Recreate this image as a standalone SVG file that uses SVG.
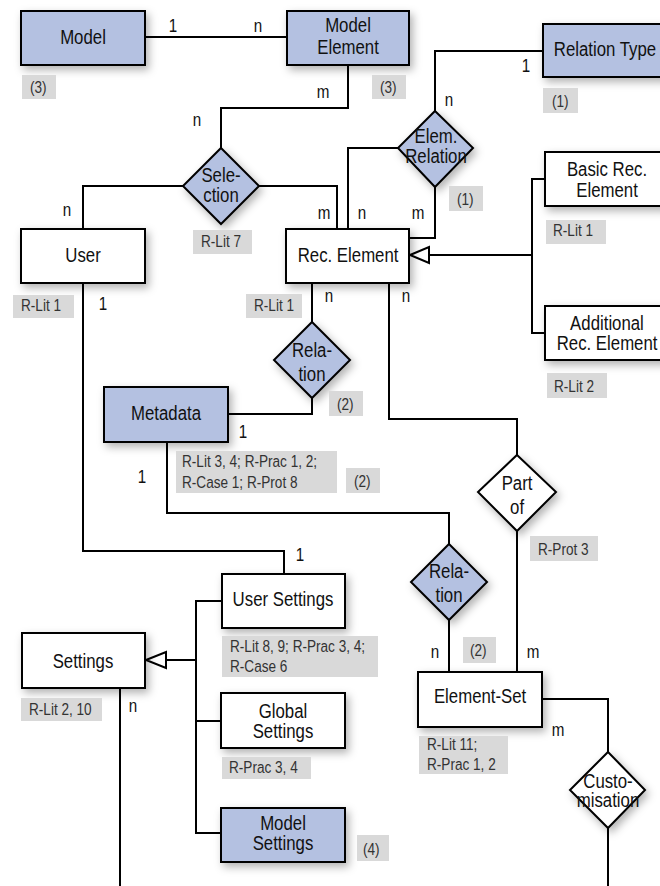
<svg xmlns="http://www.w3.org/2000/svg" width="660" height="886" viewBox="0 0 660 886">
<style>
.box{fill:#fff;stroke:#000;stroke-width:2}
.blue{fill:#b4c1e1}
.lbl{fill:#d9d9d9}
.t,.s,.c{font-family:"Liberation Sans",Arial,sans-serif;transform-box:fill-box;transform:scaleX(0.8)}
.t{font-size:21px;text-anchor:middle;fill:#111;transform-origin:center}
.s{font-size:17px;fill:#333;transform-origin:left center}
.c{font-size:19px;text-anchor:middle;fill:#111;transform-origin:center}
.ln{fill:none;stroke:#000;stroke-width:2}
.tri{fill:#fff;stroke:#000;stroke-width:2}
</style>
<defs>
<filter id="sh" x="-20%" y="-20%" width="150%" height="160%">
<feDropShadow dx="3" dy="4" stdDeviation="4" flood-color="#000" flood-opacity="0.3"/>
</filter>
</defs>
<rect width="660" height="886" fill="#fff"/>
<g id="connectors">
<path class="ln" d="M145,37 H287"/>
<path class="ln" d="M348,65 V108 H221 V148"/>
<path class="ln" d="M183,186 H83 V229"/>
<path class="ln" d="M259,186 H337 V229"/>
<path class="ln" d="M435,111 V51 H543"/>
<path class="ln" d="M398,148 H348 V229"/>
<path class="ln" d="M435,187 V238 H409"/>
<path class="ln" d="M545,179 H532 V333 H545 M532,255 H429"/>
<polygon class="tri" points="410,255 429,247 429,263"/>
<path class="ln" d="M312,283 V322"/>
<path class="ln" d="M312,398 V414 H228"/>
<path class="ln" d="M389,283 V419 H517 V455"/>
<path class="ln" d="M517,531 V672"/>
<path class="ln" d="M167,442 V513 H449 V544"/>
<path class="ln" d="M449,620 V672"/>
<path class="ln" d="M83,283 V551 H284 V574"/>
<path class="ln" d="M542,699 H608 V752"/>
<path class="ln" d="M608,828 V886"/>
<path class="ln" d="M166,660 H196 M222,601 H196 V833 H221 M196,721 H221"/>
<polygon class="tri" points="146,660 166,652 166,668"/>
<path class="ln" d="M120,688 V886"/>
<text class="c" x="173" y="32">1</text>
<text class="c" x="258" y="32">n</text>
<text class="c" x="323" y="98">m</text>
<text class="c" x="197" y="126">n</text>
<text class="c" x="67" y="216">n</text>
<text class="c" x="324" y="219">m</text>
<text class="c" x="362" y="219">n</text>
<text class="c" x="418" y="219">m</text>
<text class="c" x="526" y="72">1</text>
<text class="c" x="449" y="106">n</text>
<text class="c" x="103" y="310">1</text>
<text class="c" x="329" y="302">n</text>
<text class="c" x="406" y="302">n</text>
<text class="c" x="243" y="438">1</text>
<text class="c" x="142" y="483">1</text>
<text class="c" x="300" y="561">1</text>
<text class="c" x="435" y="658">n</text>
<text class="c" x="533" y="658">m</text>
<text class="c" x="558" y="736">m</text>
<text class="c" x="133" y="712">n</text>
</g>
<g id="model">
<rect class="box blue" x="21" y="11" width="124" height="54" filter="url(#sh)"/>
<text class="t" x="83" y="44">Model</text>
<rect class="lbl" x="22" y="75" width="34" height="24"/>
<text class="s" x="30" y="93">(3)</text>
</g>
<g id="model-element">
<rect class="box blue" x="287" y="11" width="122" height="54" filter="url(#sh)"/>
<text class="t" x="348" y="32">Model</text>
<text class="t" x="348" y="54">Element</text>
<rect class="lbl" x="372" y="75" width="34" height="24"/>
<text class="s" x="380" y="93">(3)</text>
</g>
<g id="relation-type">
<rect class="box blue" x="543" y="24" width="125" height="53" filter="url(#sh)"/>
<text class="t" x="605" y="56">Relation Type</text>
<rect class="lbl" x="543" y="88" width="35" height="25"/>
<text class="s" x="552" y="107">(1)</text>
</g>
<g id="selection">
<polygon class="box blue" points="221,148 259,186 221,224 183,186" filter="url(#sh)"/>
<text class="t" x="221" y="182">Sele-</text>
<text class="t" x="221" y="202">ction</text>
<rect class="lbl" x="193" y="230" width="59" height="24"/>
<text class="s" x="201" y="247">R-Lit 7</text>
</g>
<g id="elem-relation">
<polygon class="box blue" points="435,111 473,148 435,187 398,148" filter="url(#sh)"/>
<text class="t" x="436" y="143">Elem.</text>
<text class="t" x="436" y="163">Relation</text>
<rect class="lbl" x="449" y="186" width="34" height="25"/>
<text class="s" x="457" y="205">(1)</text>
</g>
<g id="user">
<rect class="box" x="21" y="229" width="124" height="54" filter="url(#sh)"/>
<text class="t" x="83" y="262">User</text>
<rect class="lbl" x="13" y="295" width="61" height="23"/>
<text class="s" x="21" y="311">R-Lit 1</text>
</g>
<g id="rec-element">
<rect class="box" x="286" y="229" width="123" height="54" filter="url(#sh)"/>
<text class="t" x="348" y="262">Rec. Element</text>
<rect class="lbl" x="246" y="294" width="56" height="24"/>
<text class="s" x="254" y="311">R-Lit 1</text>
</g>
<g id="basic-rec-element">
<rect class="box" x="545" y="152" width="124" height="54" filter="url(#sh)"/>
<text class="t" x="607" y="176">Basic Rec.</text>
<text class="t" x="607" y="197">Element</text>
<rect class="lbl" x="546" y="220" width="60" height="24"/>
<text class="s" x="553" y="236">R-Lit 1</text>
</g>
<g id="additional-rec-element">
<rect class="box" x="545" y="306" width="124" height="54" filter="url(#sh)"/>
<text class="t" x="607" y="330">Additional</text>
<text class="t" x="607" y="350">Rec. Element</text>
<rect class="lbl" x="547" y="373" width="60" height="25"/>
<text class="s" x="554" y="392">R-Lit 2</text>
</g>
<g id="relation-1">
<polygon class="box blue" points="312,322 350,360 312,398 274,360" filter="url(#sh)"/>
<text class="t" x="312" y="357">Rela-</text>
<text class="t" x="312" y="381">tion</text>
<rect class="lbl" x="329" y="391" width="34" height="25"/>
<text class="s" x="337" y="410">(2)</text>
</g>
<g id="metadata">
<rect class="box blue" x="104" y="387" width="124" height="55" filter="url(#sh)"/>
<text class="t" x="166" y="420">Metadata</text>
<rect class="lbl" x="176" y="451" width="161" height="42"/>
<text class="s" x="182" y="467">R-Lit 3, 4; R-Prac 1, 2;</text>
<text class="s" x="182" y="488">R-Case 1; R-Prot 8</text>
<rect class="lbl" x="346" y="468" width="34" height="25"/>
<text class="s" x="354" y="487">(2)</text>
</g>
<g id="part-of">
<polygon class="box" points="517,455 556,492 517,531 478,492" filter="url(#sh)"/>
<text class="t" x="517" y="490">Part</text>
<text class="t" x="517" y="514">of</text>
<rect class="lbl" x="530" y="536" width="68" height="25"/>
<text class="s" x="538" y="555">R-Prot 3</text>
</g>
<g id="relation-2">
<polygon class="box blue" points="449,544 487,582 449,620 411,582" filter="url(#sh)"/>
<text class="t" x="449" y="578">Rela-</text>
<text class="t" x="449" y="602">tion</text>
<rect class="lbl" x="463" y="637" width="33" height="26"/>
<text class="s" x="470" y="656">(2)</text>
</g>
<g id="user-settings">
<rect class="box" x="222" y="574" width="123" height="54" filter="url(#sh)"/>
<text class="t" x="283" y="606">User Settings</text>
<rect class="lbl" x="222" y="636" width="156" height="41"/>
<text class="s" x="230" y="652">R-Lit 8, 9; R-Prac 3, 4;</text>
<text class="s" x="230" y="672">R-Case 6</text>
</g>
<g id="settings">
<rect class="box" x="22" y="633" width="123" height="55" filter="url(#sh)"/>
<text class="t" x="83" y="668">Settings</text>
<rect class="lbl" x="21" y="698" width="81" height="23"/>
<text class="s" x="29" y="715">R-Lit 2, 10</text>
</g>
<g id="element-set">
<rect class="box" x="418" y="672" width="124" height="55" filter="url(#sh)"/>
<text class="t" x="480" y="703">Element-Set</text>
<rect class="lbl" x="419" y="736" width="89" height="38"/>
<text class="s" x="427" y="750">R-Lit 11;</text>
<text class="s" x="427" y="770">R-Prac 1, 2</text>
</g>
<g id="global-settings">
<rect class="box" x="221" y="693" width="124" height="55" filter="url(#sh)"/>
<text class="t" x="283" y="718">Global</text>
<text class="t" x="283" y="738">Settings</text>
<rect class="lbl" x="222" y="757" width="89" height="22"/>
<text class="s" x="229" y="773">R-Prac 3, 4</text>
</g>
<g id="customisation">
<polygon class="box" points="608,752 645,790 608,828 570,790" filter="url(#sh)"/>
<text class="t" x="608" y="788">Custo-</text>
<text class="t" x="608" y="807">misation</text>
</g>
<g id="model-settings">
<rect class="box blue" x="221" y="808" width="124" height="54" filter="url(#sh)"/>
<text class="t" x="283" y="830">Model</text>
<text class="t" x="283" y="850">Settings</text>
<rect class="lbl" x="357" y="835" width="32" height="26"/>
<text class="s" x="363" y="855">(4)</text>
</g>
</svg>
